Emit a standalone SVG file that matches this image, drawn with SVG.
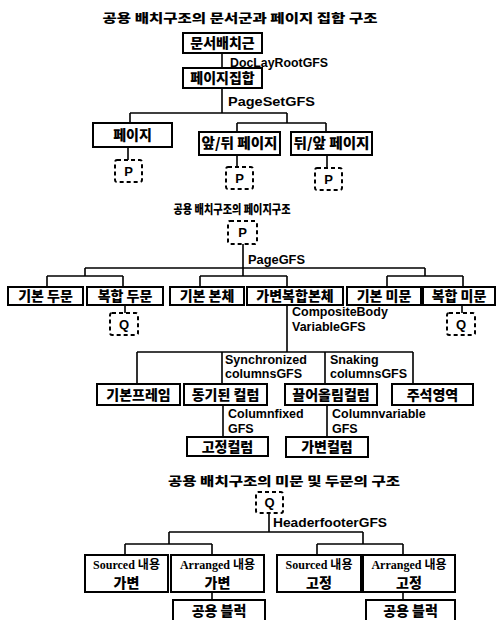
<svg xmlns="http://www.w3.org/2000/svg" width="496" height="620" viewBox="0 0 496 620">
<style>
.box{fill:#fff;stroke:#000;stroke-width:2}
.dash{fill:#fff;stroke:#000;stroke-width:2;stroke-dasharray:4 3}
.ln{stroke:#000;stroke-width:1.6;fill:none}
.ko{font-family:"Noto Sans CJK KR","Noto Sans CJK SC",sans-serif;font-weight:900;font-size:14px;text-anchor:middle}
.ti{font-family:"Noto Sans CJK KR","Noto Sans CJK SC",sans-serif;font-weight:900;font-size:12.5px;text-anchor:middle}
.en{font-family:"Liberation Sans",Arial,sans-serif;font-weight:bold;font-size:12.5px}
.pc{font-family:"Liberation Sans",Arial,sans-serif;font-weight:bold;font-size:13px;text-anchor:middle}
.sr{font-family:"Liberation Serif","Noto Sans CJK KR",serif;font-weight:bold;font-size:12px;text-anchor:middle}
</style>
<rect width="496" height="620" fill="#fff"/>
<g id="titles">
<text class="ti" x="240" y="23" textLength="275" lengthAdjust="spacingAndGlyphs">공용 배치구조의 문서군과 페이지 집합 구조</text>
<text class="ti" x="232" y="214" textLength="117" lengthAdjust="spacingAndGlyphs">공용 배치구조의 페이지구조</text>
<text class="ti" x="284" y="486" textLength="232" lengthAdjust="spacingAndGlyphs">공용 배치구조의 미문 및 두문의 구조</text>
</g>
<g id="connectors">
<path class="ln" d="M222 53V68M222 88V113M130 113H287M130 113V123M287 113V123M237 123H326M237 123V132M326 123V132M128 147V160M237 155V167M327 155V167"/>
<path class="ln" d="M243 244V276M85 268H425M85 268V276M425 268V276M47 276H123M47 276V287M123 276V287M200 276H287M200 276V287M287 276V287M387 276H463M387 276V287M463 276V287M125 305V313M462 305V313"/>
<path class="ln" d="M287 305V352M137 352H413M137 352V384M222 352V384M325 352V384M413 352V384M223 405V437M327 405V437"/>
<path class="ln" d="M269 513V532M169 532H363M169 532V544M363 532V544M125 544H212M125 544V555M212 544V555M317 544H403M317 544V555M403 544V555M212 592V600M403 592V600"/>
<text class="en" x="230" y="67" textLength="98" lengthAdjust="spacingAndGlyphs">DocLayRootGFS</text>
<text class="en" x="228" y="106" textLength="87" lengthAdjust="spacingAndGlyphs">PageSetGFS</text>
<text class="en" x="248" y="264" textLength="57" lengthAdjust="spacingAndGlyphs">PageGFS</text>
<text class="en" x="292" y="316">CompositeBody</text>
<text class="en" x="292" y="331">VariableGFS</text>
<text class="en" x="225" y="364">Synchronized</text>
<text class="en" x="225" y="378">columnsGFS</text>
<text class="en" x="330" y="364">Snaking</text>
<text class="en" x="330" y="378">columnsGFS</text>
<text class="en" x="228" y="418">Columnfixed</text>
<text class="en" x="228" y="433">GFS</text>
<text class="en" x="332" y="418">Columnvariable</text>
<text class="en" x="332" y="433">GFS</text>
<text class="en" x="273" y="527" textLength="114" lengthAdjust="spacingAndGlyphs">HeaderfooterGFS</text>
</g>
<g id="n-root"><rect class="box" x="183" y="33" width="79" height="20"/><text class="ko" x="222.5" y="48">문서배치근</text></g>
<g id="n-pageset"><rect class="box" x="183" y="68" width="79" height="20"/><text class="ko" x="222.5" y="83">페이지집합</text></g>
<g id="n-page"><rect class="box" x="93" y="123" width="79" height="24"/><text class="ko" x="132.5" y="140">페이지</text></g>
<g id="n-fb"><rect class="box" x="199" y="132" width="81" height="23"/><text class="ko" x="239.5" y="148" textLength="76" lengthAdjust="spacingAndGlyphs">앞/뒤 페이지</text></g>
<g id="n-bf"><rect class="box" x="291" y="132" width="81" height="23"/><text class="ko" x="331.5" y="148" textLength="76" lengthAdjust="spacingAndGlyphs">뒤/앞 페이지</text></g>
<g id="n-p1"><rect class="dash" x="115" y="160" width="27" height="22" rx="2"/><text class="pc" x="128.5" y="176">P</text></g>
<g id="n-p2"><rect class="dash" x="226" y="167" width="27" height="22" rx="2"/><text class="pc" x="239.5" y="183">P</text></g>
<g id="n-p3"><rect class="dash" x="315" y="168" width="27" height="22" rx="2"/><text class="pc" x="328.5" y="184">P</text></g>
<g id="n-p"><rect class="dash" x="228" y="221" width="29" height="23" rx="2"/><text class="pc" x="242.5" y="237">P</text></g>
<g id="n-hb"><rect class="box" x="8" y="287" width="75" height="18"/><text class="ko" x="45.5" y="301">기본 두문</text></g>
<g id="n-hc"><rect class="box" x="87" y="287" width="76" height="18"/><text class="ko" x="125" y="301">복합 두문</text></g>
<g id="n-bb"><rect class="box" x="170" y="287" width="74" height="18"/><text class="ko" x="207" y="301">기본 본체</text></g>
<g id="n-bv"><rect class="box" x="247" y="287" width="96" height="18"/><text class="ko" x="295" y="301">가변복합본체</text></g>
<g id="n-fb2"><rect class="box" x="347" y="287" width="74" height="18"/><text class="ko" x="384" y="301">기본 미문</text></g>
<g id="n-fc"><rect class="box" x="423" y="287" width="72" height="18"/><text class="ko" x="459" y="301">복합 미문</text></g>
<g id="n-q1"><rect class="dash" x="110" y="313" width="28" height="22" rx="2"/><text class="pc" x="124" y="329">Q</text></g>
<g id="n-q2"><rect class="dash" x="447" y="313" width="28" height="22" rx="2"/><text class="pc" x="461" y="329">Q</text></g>
<g id="n-frame"><rect class="box" x="97" y="384" width="83" height="21"/><text class="ko" x="138.5" y="400">기본프레임</text></g>
<g id="n-sync"><rect class="box" x="184" y="384" width="83" height="21"/><text class="ko" x="225.5" y="400">동기된 컬럼</text></g>
<g id="n-snake"><rect class="box" x="285" y="384" width="92" height="21"/><text class="ko" x="331" y="400">끌어올림컬럼</text></g>
<g id="n-note"><rect class="box" x="392" y="384" width="81" height="21"/><text class="ko" x="432.5" y="400">주석영역</text></g>
<g id="n-fixcol"><rect class="box" x="187" y="437" width="81" height="19"/><text class="ko" x="227.5" y="452">고정컬럼</text></g>
<g id="n-varcol"><rect class="box" x="286" y="437" width="82" height="20"/><text class="ko" x="327" y="452">가변컬럼</text></g>
<g id="n-q"><rect class="dash" x="256" y="492" width="27" height="21" rx="2"/><text class="pc" x="269.5" y="507">Q</text></g>
<g id="n-sv"><rect class="box" x="85" y="555" width="83" height="37"/><text class="sr" x="126.5" y="569">Sourced 내용</text><text class="ko" x="126.5" y="588">가변</text></g>
<g id="n-av"><rect class="box" x="171" y="555" width="93" height="37"/><text class="sr" x="217.5" y="569">Arranged 내용</text><text class="ko" x="217.5" y="588">가변</text></g>
<g id="n-sf"><rect class="box" x="277" y="555" width="84" height="37"/><text class="sr" x="319" y="569">Sourced 내용</text><text class="ko" x="319" y="588">고정</text></g>
<g id="n-af"><rect class="box" x="363" y="555" width="92" height="37"/><text class="sr" x="409" y="569">Arranged 내용</text><text class="ko" x="409" y="588">고정</text></g>
<g id="n-cb1"><rect class="box" x="173" y="600" width="92" height="26"/><text class="ko" x="219" y="616">공용 블럭</text></g>
<g id="n-cb2"><rect class="box" x="366" y="600" width="89" height="26"/><text class="ko" x="410.5" y="616">공용 블럭</text></g>
</svg>
